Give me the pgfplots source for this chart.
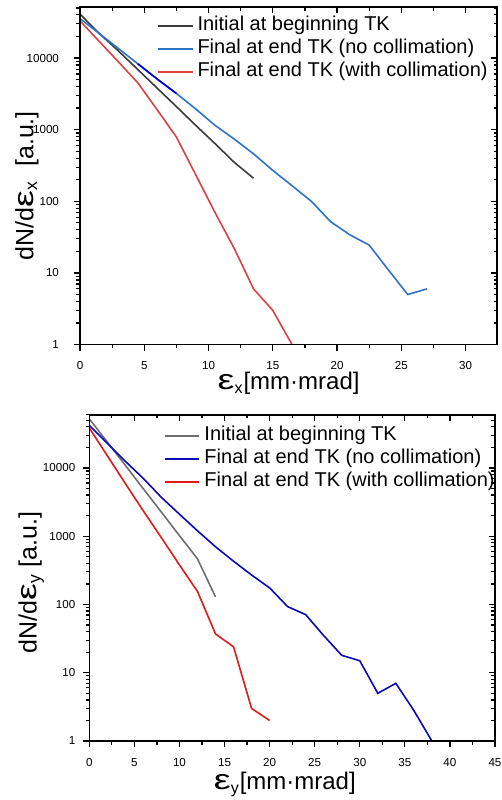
\documentclass[border=0pt]{standalone}
\usepackage{fontspec}
\setmainfont{Liberation Sans}
\usepackage{graphicx}
\usepackage{pgfplots}
\pgfplotsset{compat=1.18}

\definecolor{tgray}{RGB}{60,60,60}
\definecolor{tblue}{RGB}{45,115,200}
\definecolor{tdblue}{RGB}{0,0,210}
\definecolor{tred}{RGB}{220,65,65}
\definecolor{bgray}{RGB}{110,110,110}
\definecolor{bblue}{RGB}{10,10,185}
\definecolor{bred}{RGB}{225,25,25}

% wide epsilon as in the original labels
\newcommand{\eps}{\scalebox{1.35}[1]{\fontsize{14}{14}\selectfont ε}}

\begin{document}
\begin{tikzpicture}
\useasboundingbox (0,0) rectangle (251pt,-400pt);

% top panel: horizontal emittance
\begin{axis}[at={(40pt,-3.5pt)}, anchor=north west,
  scale only axis, width=208.6pt, height=168.8pt,
  ymode=log, ymin=1, ymax=51500,
  xmin=0, xmax=32.46,
  xtick={0,5,...,30}, minor x tick num=1,
  ytick={1,10,100,1000,10000}, yticklabels={1,10,100,1000,10000},
  minor ytick={2,3,...,9,20,30,...,90,200,300,...,900,2000,3000,...,9000,20000,30000,40000,50000},
  tick align=outside, xtick pos=left, ytick pos=left,
  major tick length=3pt, minor tick length=1.8pt,
  axis line style={line width=0.8pt},
  tick style={black, line width=0.6pt},
  tick label style={font=\fontsize{5.8}{7}\selectfont},
  xticklabel style={yshift=-2pt},
  yticklabel style={xshift=-4pt},
  /pgf/number format/assume math mode=true,
  xlabel={\eps\textsubscript{x}[mm·mrad]},
  ylabel={dN/d\eps\textsubscript{x}\ \ [a.u.]},
  xlabel style={font=\fontsize{12}{14}\selectfont, at={(axis description cs:0.5,-0.116)}, anchor=center},
  ylabel style={font=\fontsize{12.5}{14}\selectfont, at={(axis description cs:-0.127,0.471)}, anchor=center},
  legend cell align=left,
  legend image post style={line width=1pt},
  legend style={draw=none, fill=none, inner sep=0pt, row sep=0pt,
    font=\fontsize{10}{11.5}\selectfont,
    nodes={inner ysep=1pt, text height=7.2pt, text depth=2.3pt},
    at={(axis description cs:0.1845,0.98)}, anchor=north west},
]
\addplot[tgray, line width=0.8pt] coordinates {
  (0,41000) (1.5,22000) (3,12500) (4.5,6900) (6,3800) (7.5,2100)
  (9,1150) (10.5,640) (12,350) (13.5,210)};
\addlegendentry{Initial at beginning TK}
\addplot[tblue, line width=0.8pt] coordinates {
  (0,35500) (1.5,22000) (3,13500) (4.5,8300) (6,5100) (7.5,3200)
  (9,1950) (10.5,1150) (12,740) (13.5,460) (15,270) (16.5,165)
  (18,100) (19.5,52) (21,34) (22.5,24.5) (24,11) (25.5,5) (27,6)};
\addlegendentry{Final at end TK (no collimation)}
\addplot[tred, line width=0.8pt] coordinates {
  (0,33000) (1.5,17000) (3,8800) (4.5,4500) (6,1900) (7.5,790)
  (9,235) (10.5,70) (12,22) (13.5,6) (15,3) (16.5,1)};
\addlegendentry{Final at end TK (with collimation)}
\addplot[tdblue, line width=0.8pt, forget plot] coordinates {
  (4.5,8300) (6,5100) (7.5,3200)};
\end{axis}
% mirrored ticks on top and right, pointing inward
\begin{axis}[at={(40pt,-3.5pt)}, anchor=north west,
  scale only axis, width=208.6pt, height=168.8pt,
  ymode=log, ymin=1, ymax=51500,
  xmin=0, xmax=32.46,
  xtick={0,5,...,30}, minor x tick num=1,
  ytick={1,10,100,1000,10000},
  minor ytick={2,3,...,9,20,30,...,90,200,300,...,900,2000,3000,...,9000,20000,30000,40000,50000},
  xticklabels={}, yticklabels={},
  tick align=inside, xtick pos=right, ytick pos=right,
  major tick length=3pt, minor tick length=1.8pt,
  axis line style={line width=0.8pt},
  tick style={black, line width=0.6pt},
]
\addplot[draw=none] coordinates {(0,1)};
\end{axis}

% bottom panel: vertical emittance
\begin{axis}[at={(44.65pt,-207.35pt)}, anchor=north west,
  scale only axis, width=202.85pt, height=163.15pt,
  ymode=log, ymin=1, ymax=60200,
  xmin=0, xmax=45,
  xtick={0,5,...,45}, minor x tick num=1,
  ytick={1,10,100,1000,10000}, yticklabels={1,10,100,1000,10000},
  minor ytick={2,3,...,9,20,30,...,90,200,300,...,900,2000,3000,...,9000,20000,30000,40000,50000,60000},
  tick align=outside, xtick pos=left, ytick pos=left,
  major tick length=3pt, minor tick length=1.8pt,
  axis line style={line width=0.8pt},
  tick style={black, line width=0.6pt},
  tick label style={font=\fontsize{5.8}{7}\selectfont},
  xticklabel style={yshift=-2pt},
  yticklabel style={xshift=-0.5pt},
  /pgf/number format/assume math mode=true,
  xlabel={\eps\textsubscript{y}[mm·mrad]},
  ylabel={dN/d\eps\textsubscript{y} [a.u.]},
  xlabel style={font=\fontsize{12}{14}\selectfont, at={(axis description cs:0.482,-0.133)}, anchor=center},
  ylabel style={font=\fontsize{12.5}{14}\selectfont, at={(axis description cs:-0.143,0.486)}, anchor=center},
  legend cell align=left,
  legend image post style={line width=1pt},
  legend style={draw=none, fill=none, inner sep=0pt, row sep=0pt,
    font=\fontsize{10}{11.5}\selectfont,
    nodes={inner ysep=1pt, text height=7.2pt, text depth=2.3pt},
    at={(axis description cs:0.184,0.9715)}, anchor=north west},
]
\addplot[bgray, line width=0.8pt] coordinates {
  (0,52500) (2,23900) (4,10900) (6,4940) (8,2250) (10,1020)
  (12,466) (14,129)};
\addlegendentry{Initial at beginning TK}
\addplot[bblue, line width=0.8pt] coordinates {
  (0,42000) (2,23000) (4,12500) (6,7000) (8,3700) (10,2100)
  (12,1200) (14,700) (16,430) (18,270) (20,175) (22,93) (24,71)
  (26,35) (28,18) (30,15) (32,5) (34,7) (36,2.8) (38,1)};
\addlegendentry{Final at end TK (no collimation)}
\addplot[bred, line width=0.8pt] coordinates {
  (0,38500) (2,15100) (4,5900) (6,2340) (8,950) (10,380)
  (12,155) (14,37) (16,24) (18,3) (20,2)};
\addlegendentry{Final at end TK (with collimation)}
\end{axis}
\begin{axis}[at={(44.65pt,-207.35pt)}, anchor=north west,
  scale only axis, width=202.85pt, height=163.15pt,
  ymode=log, ymin=1, ymax=60200,
  xmin=0, xmax=45,
  xtick={0,5,...,45}, minor x tick num=1,
  ytick={1,10,100,1000,10000},
  minor ytick={2,3,...,9,20,30,...,90,200,300,...,900,2000,3000,...,9000,20000,30000,40000,50000,60000},
  xticklabels={}, yticklabels={},
  tick align=inside, xtick pos=right, ytick pos=right,
  major tick length=3pt, minor tick length=1.8pt,
  axis line style={line width=0.8pt},
  tick style={black, line width=0.6pt},
]
\addplot[draw=none] coordinates {(0,1)};
\end{axis}
\end{tikzpicture}
\end{document}
